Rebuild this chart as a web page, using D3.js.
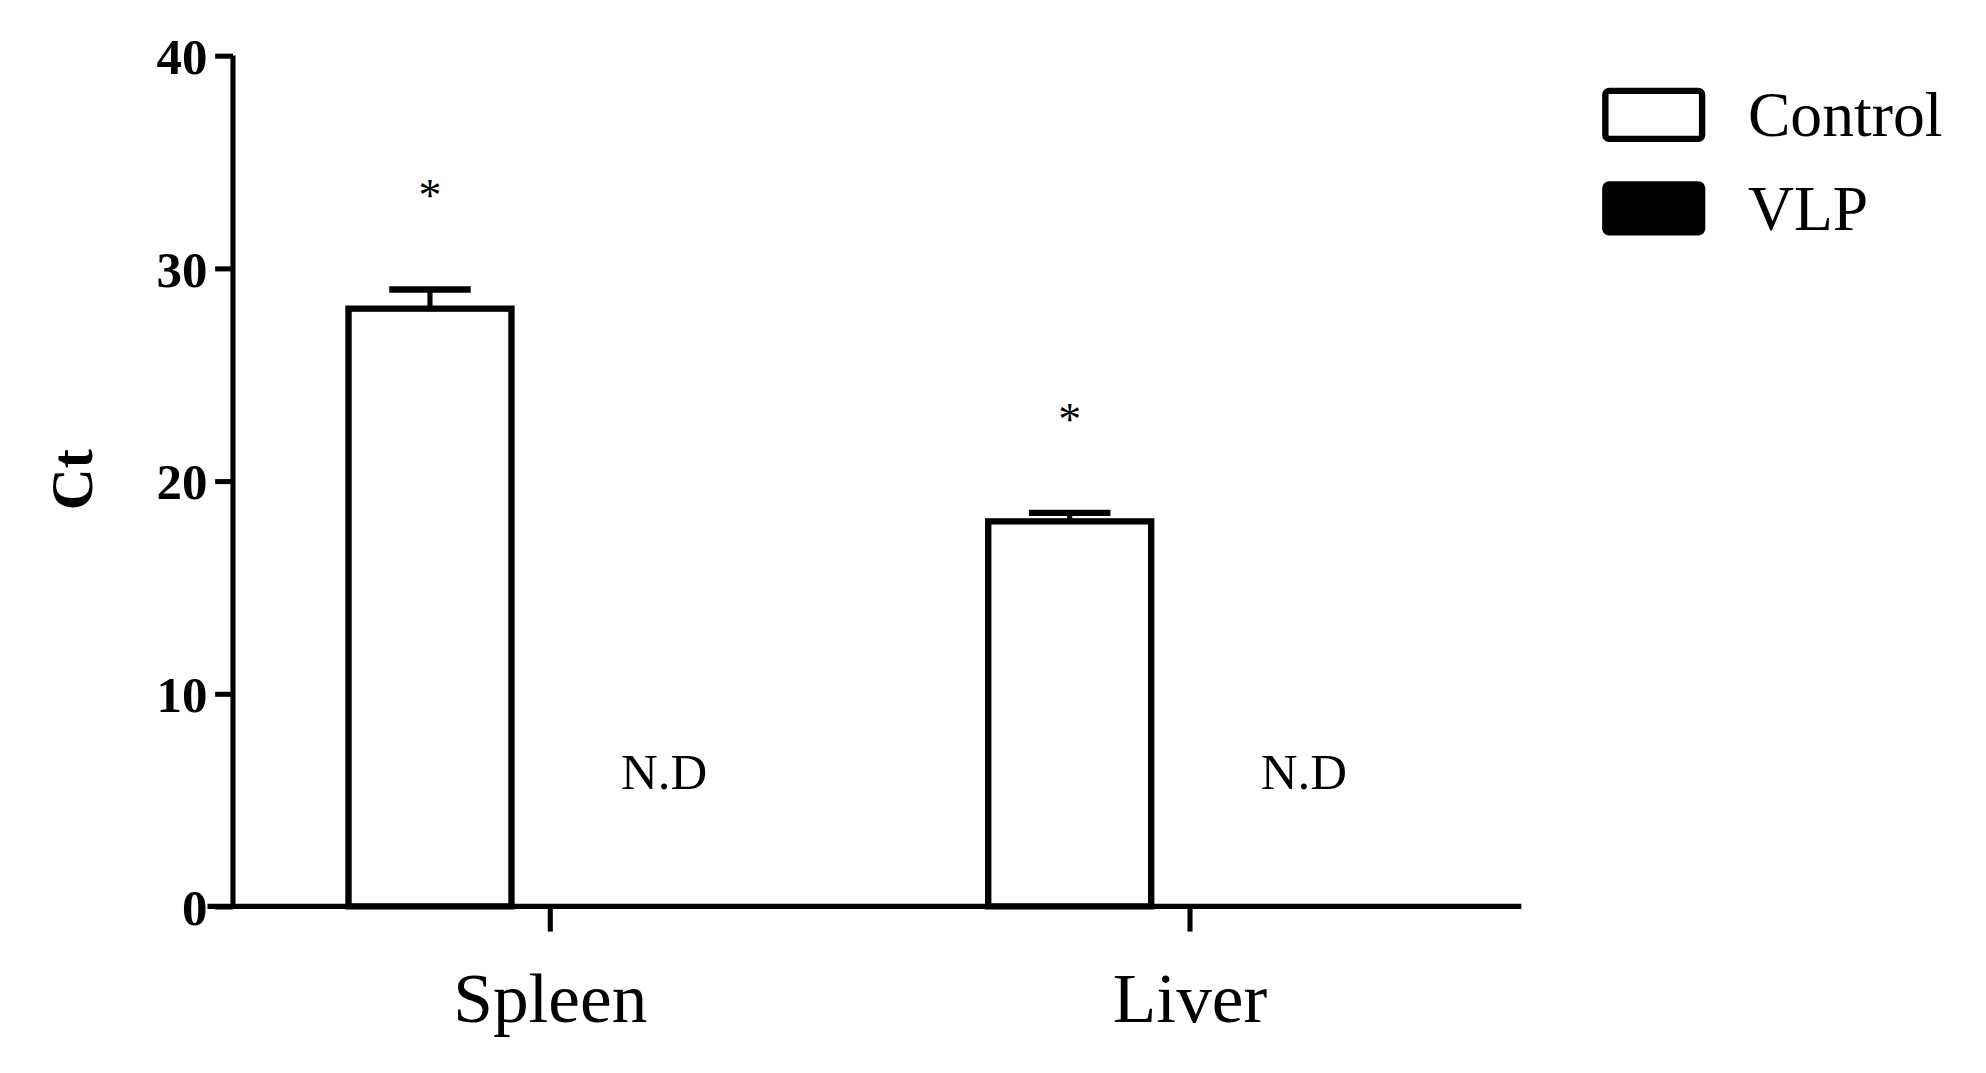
<!DOCTYPE html>
<html><head><meta charset="utf-8">
<script src="https://cdn.jsdelivr.net/npm/d3@7"></script>
<style>body{margin:0;background:#fff}</style>
</head><body><div id="chart"></div>
<script>
// data
const groups = ["Spleen", "Liver"];
const series = ["Control", "VLP"];
const controlMean = [28.1, 18.1];
const controlErr = [0.9, 0.4];
const vlpMean = [null, null]; // not detected
const yTicks = [0, 10, 20, 30, 40];

const W = 1560, H = 850;
const serif = "'Liberation Serif', 'Times New Roman', serif";
const svg = d3.select("#chart").append("svg")
  .attr("width", 1986).attr("height", 1073)
  .attr("viewBox", `0 0 ${W} ${H}`)
  .attr("preserveAspectRatio", "none")
  .style("font-family", serif);

const y = d3.scaleLinear().domain([0, 40]).range([718, 44]);
const x = d3.scaleBand().domain(groups).range([181, 1186]);
const xs = d3.scaleBand().domain(series).range([-158.5, 158.5]).paddingInner(61 / 189);

// y axis
const yAxis = svg.append("g").attr("transform", "translate(183,0)")
  .call(d3.axisLeft(y).tickValues(yTicks).tickSize(14).tickPadding(6));
yAxis.select(".domain").attr("stroke-width", 4).attr("d", `M0,${y(0)}V${y(40)}`);
yAxis.selectAll(".tick line").attr("stroke-width", 4);
yAxis.selectAll("text").style("font-size", "40px").style("font-weight", "bold")
  .style("font-family", serif).attr("dy", "0.35em");

// x axis line
svg.append("line").attr("x1", 163).attr("x2", 1195).attr("y1", y(0)).attr("y2", y(0))
  .attr("stroke", "#000").attr("stroke-width", 4);
groups.forEach(g => {
  const cx = x(g) + x.bandwidth() / 2;
  svg.append("line").attr("x1", cx).attr("x2", cx).attr("y1", y(0)).attr("y2", y(0) + 20)
    .attr("stroke", "#000").attr("stroke-width", 4);
  svg.append("text").attr("x", cx).attr("y", 810).attr("text-anchor", "middle")
    .style("font-size", "56px").text(g);
});

// bars
groups.forEach((g, i) => {
  const cx = x(g) + x.bandwidth() / 2;
  const bx = cx + xs("Control");
  const mx = bx + xs.bandwidth() / 2;
  // error bar
  svg.append("line").attr("x1", mx).attr("x2", mx).attr("y1", y(controlMean[i])).attr("y2", y(controlMean[i] + controlErr[i]))
    .attr("stroke", "#000").attr("stroke-width", 4);
  svg.append("line").attr("x1", mx - 32).attr("x2", mx + 32)
    .attr("y1", y(controlMean[i] + controlErr[i])).attr("y2", y(controlMean[i] + controlErr[i]))
    .attr("stroke", "#000").attr("stroke-width", 5);
  svg.append("rect").attr("x", bx).attr("y", y(controlMean[i]))
    .attr("width", xs.bandwidth()).attr("height", y(0) - y(controlMean[i]))
    .attr("fill", "#fff").attr("stroke", "#000").attr("stroke-width", 5);
  svg.append("text").attr("x", mx).attr("y", y(controlMean[i] + controlErr[i]) - 62)
    .attr("text-anchor", "middle").style("font-size", "36px").text("*");
  if (vlpMean[i] == null) {
    const vx = cx + xs("VLP") + xs.bandwidth() / 2;
    svg.append("text").attr("x", vx - 5).attr("y", 625).attr("text-anchor", "middle")
      .style("font-size", "40px").text("N.D");
  }
});

// y label
svg.append("text").attr("transform", "translate(72,380) rotate(-90)")
  .attr("text-anchor", "middle").style("font-size", "46px").style("font-weight", "bold").text("Ct");

// legend
const fills = ["#fff", "#000"];
series.forEach((s, i) => {
  const ly = 72 + i * 74;
  svg.append("rect").attr("x", 1261).attr("y", ly).attr("width", 76).attr("height", 38)
    .attr("rx", 3).attr("fill", fills[i]).attr("stroke", "#000").attr("stroke-width", 5);
  svg.append("text").attr("x", 1373).attr("y", ly + 36).style("font-size", "50px").text(s);
});
</script></body></html>
